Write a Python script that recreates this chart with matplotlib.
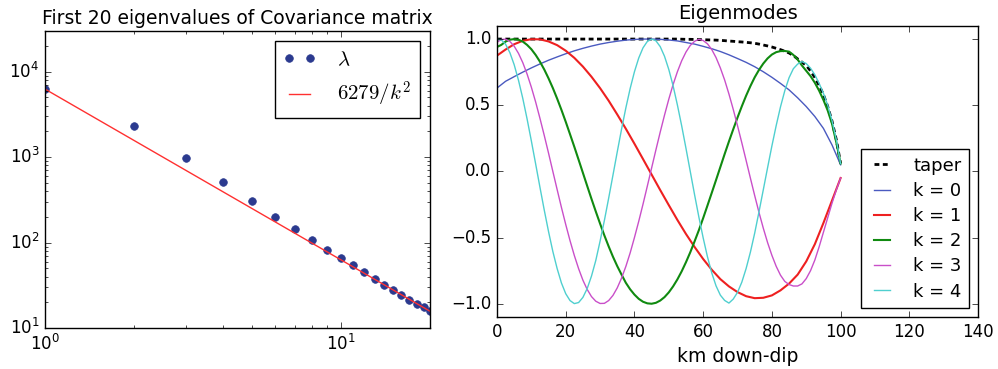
import numpy as np
import matplotlib
matplotlib.use("Agg")
import matplotlib.pyplot as plt

plt.style.use('classic')
plt.rcParams['figure.facecolor'] = 'white'
plt.rcParams['savefig.facecolor'] = 'white'
plt.rcParams['mathtext.fontset'] = 'cm'

# eigenvalues of the covariance matrix, k = 1..20
k = [1, 2, 3, 4, 5, 6, 7, 8, 9, 10, 11, 12, 13, 14, 15, 16, 17, 18, 19, 20]
lam = [6279, 2300, 990, 508, 306, 202, 145, 108, 83, 66,
       54, 45, 38, 32, 28, 24.4, 21.5, 19.3, 17.4, 15.8]
fit_k = [1, 20]
fit_val = [6279.0, 6279.0 / 400]

# eigenmodes along the down-dip direction
# smooth low modes, read every 2.5 km
x_coarse = [0, 2.5, 5, 7.5, 10, 12.5, 15, 17.5, 20, 22.5, 25, 27.5, 30, 32.5, 35,
            37.5, 40, 42.5, 45, 47.5, 50, 52.5, 55, 57.5, 60, 62.5, 65, 67.5, 70,
            72.5, 75, 77.5, 80, 82.5, 85, 87.5, 90, 92.5, 95, 97.5, 100]
mode0 = [0.63, 0.681, 0.716, 0.750, 0.782, 0.812, 0.840, 0.865, 0.889, 0.911,
         0.930, 0.947, 0.962, 0.974, 0.984, 0.992, 0.997, 1.0, 1.0, 0.998,
         0.993, 0.986, 0.974, 0.962, 0.945, 0.927, 0.906, 0.881, 0.853, 0.824,
         0.791, 0.753, 0.711, 0.665, 0.616, 0.556, 0.49, 0.415, 0.325, 0.20, 0.05]
mode1 = [0.875, 0.921, 0.961, 0.987, 0.999, 0.998, 0.982, 0.954, 0.912, 0.858,
         0.792, 0.715, 0.629, 0.534, 0.430, 0.322, 0.209, 0.093, -0.024, -0.141,
         -0.255, -0.367, -0.473, -0.571, -0.662, -0.743, -0.814, -0.869, -0.912, -0.943,
         -0.958, -0.955, -0.937, -0.899, -0.848, -0.78, -0.68, -0.55, -0.39, -0.22, -0.05]

# faster modes and taper, read every 1.25 km
x_fine = [0, 1.25, 2.5, 3.75, 5, 6.25, 7.5, 8.75, 10, 11.25, 12.5, 13.75, 15, 16.25,
          17.5, 18.75, 20, 21.25, 22.5, 23.75, 25, 26.25, 27.5, 28.75, 30, 31.25,
          32.5, 33.75, 35, 36.25, 37.5, 38.75, 40, 41.25, 42.5, 43.75, 45, 46.25,
          47.5, 48.75, 50, 51.25, 52.5, 53.75, 55, 56.25, 57.5, 58.75, 60, 61.25,
          62.5, 63.75, 65, 66.25, 67.5, 68.75, 70, 71.25, 72.5, 73.75, 75, 76.25,
          77.5, 78.75, 80, 81.25, 82.5, 83.75, 85, 86.25, 87.5, 88.75, 90, 91.25,
          92.5, 93.75, 95, 96.25, 97.5, 98.75, 100]
taper = [1, 1, 1, 1, 1, 1, 1, 1, 1, 1, 1, 1, 1, 1,
         1, 1, 1, 1, 1, 1, 1, 1, 1, 1, 1, 1,
         1, 1, 1, 1, 1, 1, 1, 1, 1, 1, 1, 1,
         1, 1, 1, 1, 1, 0.999, 0.998, 0.998, 0.997, 0.996, 0.995, 0.994,
         0.993, 0.992, 0.99, 0.988, 0.985, 0.983, 0.98, 0.978, 0.975, 0.972, 0.968, 0.962,
         0.955, 0.948, 0.94, 0.93, 0.92, 0.908, 0.895, 0.875, 0.85, 0.826, 0.80, 0.76,
         0.71, 0.65, 0.58, 0.49, 0.38, 0.24, 0.06]
mode2 = [0.94, 0.956, 0.981, 0.995, 1.0, 0.995, 0.981, 0.956, 0.923, 0.880, 0.829, 0.770,
         0.703, 0.630, 0.550, 0.465, 0.375, 0.281, 0.186, 0.088, -0.011, -0.110,
         -0.208, -0.303, -0.395, -0.484, -0.567, -0.645, -0.716, -0.780, -0.842,
         -0.891, -0.931, -0.963, -0.985, -0.997, -1.0, -0.993, -0.976, -0.950,
         -0.914, -0.869, -0.816, -0.755, -0.686, -0.611, -0.529, -0.444, -0.353,
         -0.258, -0.162, -0.065, 0.033, 0.131, 0.226, 0.318, 0.407, 0.492, 0.572,
         0.645, 0.711, 0.767, 0.815, 0.854, 0.883, 0.901, 0.909, 0.91, 0.905, 0.88,
         0.845, 0.80, 0.76, 0.72, 0.67, 0.61, 0.54, 0.46, 0.36, 0.22, 0.06]
mode3 = [0.976, 0.997, 0.999, 0.982, 0.946, 0.892, 0.822, 0.736, 0.636, 0.524, 0.401,
         0.272, 0.138, 0.0, -0.137, -0.272, -0.401, -0.523, -0.635, -0.735, -0.822,
         -0.892, -0.946, -0.981, -0.998, -0.997, -0.976, -0.937, -0.880, -0.806,
         -0.718, -0.616, -0.500, -0.377, -0.247, -0.111, 0.026, 0.163, 0.297, 0.425,
         0.546, 0.656, 0.753, 0.836, 0.902, 0.952, 0.983, 0.998, 0.989, 0.964, 0.921,
         0.860, 0.782, 0.691, 0.585, 0.469, 0.345, 0.216, 0.083, -0.051, -0.183,
         -0.310, -0.429, -0.538, -0.634, -0.717, -0.784, -0.831, -0.855, -0.866,
         -0.866, -0.85, -0.81, -0.75, -0.67, -0.57, -0.46, -0.35, -0.24, -0.14, -0.05]
mode4 = [0.998, 0.994, 0.961, 0.897, 0.806, 0.689, 0.552, 0.397, 0.230, 0.056, -0.120,
         -0.292, -0.455, -0.605, -0.734, -0.843, -0.924, -0.976, -0.999, -0.991,
         -0.952, -0.885, -0.791, -0.673, -0.527, -0.371, -0.202, -0.028, 0.148,
         0.319, 0.480, 0.626, 0.753, 0.857, 0.934, 0.982, 1.0, 0.987, 0.943, 0.870,
         0.770, 0.647, 0.502, 0.344, 0.174, -0.001, -0.176, -0.345, -0.502, -0.645,
         -0.767, -0.865, -0.935, -0.975, -0.995, -0.965, -0.914, -0.837, -0.734,
         -0.610, -0.466, -0.305, -0.139, 0.028, 0.192, 0.346, 0.487, 0.609, 0.708,
         0.776, 0.811, 0.83, 0.815, 0.78, 0.73, 0.665, 0.59, 0.50, 0.385, 0.24, 0.06]

fig = plt.figure(figsize=(9.98, 3.69), dpi=100)

ax1 = fig.add_axes([0.045, 0.111, 0.386, 0.805])
ax1.loglog(k, lam, 'o', color='#2b3a8f', markeredgecolor='#2b3a8f',
           markersize=5.5, label=r'$\lambda$')
ax1.loglog(fit_k, fit_val, '-', color='#ff3030', linewidth=1, label=r'$6279/k^2$')
ax1.set_xlim(1, 20)
ax1.set_ylim(10, 3e4)
ax1.set_title('First 20 eigenvalues of Covariance matrix', fontsize=13.5)
ax1.tick_params(labelsize=12)
ax1.legend(loc='upper right', fontsize=15, numpoints=2, handlelength=1.6,
           handletextpad=1.0)

ax2 = fig.add_axes([0.498, 0.141, 0.482, 0.789])
ax2.plot(x_fine, taper, '--', color='k', linewidth=2, dashes=(3.5, 2.5), label='taper')
ax2.plot(x_coarse, mode0, color='#4a5ac0', linewidth=1, label='k = 0')
ax2.plot(x_coarse, mode1, color='#ee2020', linewidth=1.5, label='k = 1')
ax2.plot(x_fine, mode2, color='#108a10', linewidth=1.5, label='k = 2')
ax2.plot(x_fine, mode3, color='#c94fc9', linewidth=1, label='k = 3')
ax2.plot(x_fine, mode4, color='#4fcfcf', linewidth=1, label='k = 4')
ax2.set_xlim(0, 140)
ax2.set_ylim(-1.1, 1.1)
ax2.set_xticks([0, 20, 40, 60, 80, 100, 120, 140])
ax2.set_yticks([-1.0, -0.5, 0.0, 0.5, 1.0])
ax2.set_title('Eigenmodes', fontsize=14)
ax2.set_xlabel('km down-dip', fontsize=13.5)
ax2.tick_params(labelsize=12)
ax2.legend(loc='lower right', fontsize=13, labelspacing=0.4, handlelength=1.5,
           handletextpad=1.0)

fig.savefig('out.png', dpi=100)
